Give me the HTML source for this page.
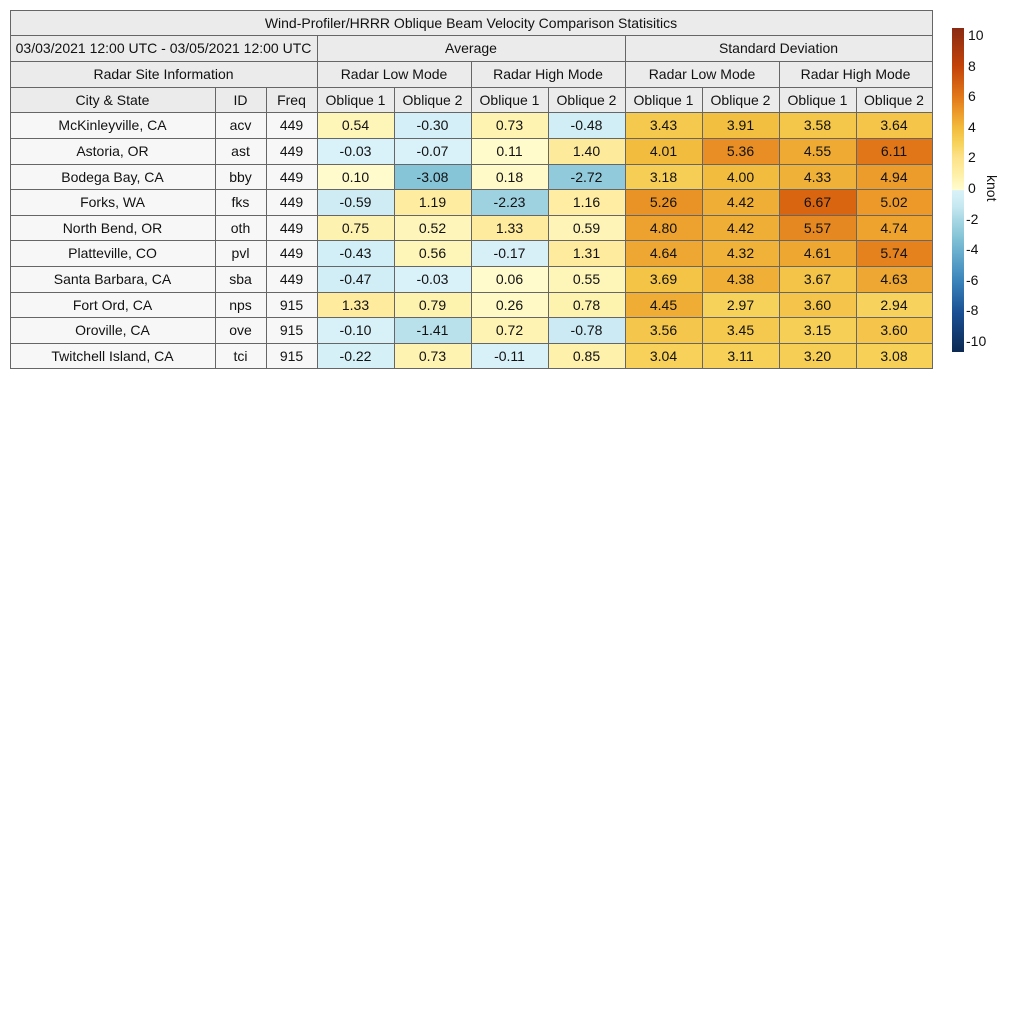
<!DOCTYPE html><html><head><style>
body{margin:0;width:1024px;height:1024px;background:#fff;position:relative;font-family:"Liberation Sans",sans-serif;overflow:hidden}
.c{position:absolute;box-sizing:border-box;border:1px solid #666;display:flex;align-items:center;justify-content:center;font-size:14px;color:#111;margin:-0.5px 0 0 -0.5px}
.t{position:absolute;font-size:14px;color:#111}
</style></head><body>
<div id="tb"></div>
<div style="position:absolute;left:952px;top:28px;width:12px;height:324px;background:linear-gradient(to bottom,#8a2a12 0%,#c4440a 12%,#e27a1a 21.5%,#ec9a2a 26%,#f2bd3f 31%,#f7d25a 35.5%,#fde28a 40%,#feefa6 45%,#fffcd0 50%,#daf2f9 50.1%,#c7e8f1 55%,#a5d6e3 59.5%,#88c6d8 64%,#6aafce 69%,#3a84bb 78%,#1a4f93 88%,#0c2a52 100%)"></div>
<div id="cb"></div>
<div class="t" style="left:982px;top:182px;transform:rotate(90deg);transform-origin:left top;left:1000px;top:175px">knot</div>
<script>
const X=[10,215,266,317,394,471,548,625,702,779,856,932];
const Y=[10,35,61,87,112,138,164,189,215,240,266,292,317,343,368];
let h='';
function cell(c0,c1,r0,r1,txt,bg,jl){h+=`<div class="c" style="left:${X[c0]}px;top:${Y[r0]}px;width:${X[c1]-X[c0]+1}px;height:${Y[r1]-Y[r0]+1}px;background:${bg};${jl?'justify-content:flex-start;padding-left:5px;':''}">${txt}</div>`;}
const hb='#ebebeb';
cell(0,11,0,1,'Wind-Profiler/HRRR Oblique Beam Velocity Comparison Statisitics',hb);
cell(0,3,1,2,'03/03/2021 12:00 UTC - 03/05/2021 12:00 UTC',hb);
cell(3,7,1,2,'Average',hb);cell(7,11,1,2,'Standard Deviation',hb);
cell(0,3,2,3,'Radar Site Information',hb);
cell(3,5,2,3,'Radar Low Mode',hb);cell(5,7,2,3,'Radar High Mode',hb);cell(7,9,2,3,'Radar Low Mode',hb);cell(9,11,2,3,'Radar High Mode',hb);
['City &amp; State','ID','Freq','Oblique 1','Oblique 2','Oblique 1','Oblique 2','Oblique 1','Oblique 2','Oblique 1','Oblique 2'].forEach((t,i)=>cell(i,i+1,3,4,t,hb));
const D=[
['McKinleyville, CA','acv',449,0.54,-0.30,0.73,-0.48,3.43,3.91,3.58,3.64],
['Astoria, OR','ast',449,-0.03,-0.07,0.11,1.40,4.01,5.36,4.55,6.11],
['Bodega Bay, CA','bby',449,0.10,-3.08,0.18,-2.72,3.18,4.00,4.33,4.94],
['Forks, WA','fks',449,-0.59,1.19,-2.23,1.16,5.26,4.42,6.67,5.02],
['North Bend, OR','oth',449,0.75,0.52,1.33,0.59,4.80,4.42,5.57,4.74],
['Platteville, CO','pvl',449,-0.43,0.56,-0.17,1.31,4.64,4.32,4.61,5.74],
['Santa Barbara, CA','sba',449,-0.47,-0.03,0.06,0.55,3.69,4.38,3.67,4.63],
['Fort Ord, CA','nps',915,1.33,0.79,0.26,0.78,4.45,2.97,3.60,2.94],
['Oroville, CA','ove',915,-0.10,-1.41,0.72,-0.78,3.56,3.45,3.15,3.60],
['Twitchell Island, CA','tci',915,-0.22,0.73,-0.11,0.85,3.04,3.11,3.20,3.08]];
const P=[[0,'#fffcd0'],[1,'#feefa6'],[2,'#fde28a'],[3,'#f7d25a'],[4,'#f2bd3f'],[5,'#ec9a2a'],[6,'#e27a1a'],[7,'#d65a0c'],[8,'#c4440a'],[10,'#8a2a12']];
const N=[[0,'#daf2f9'],[1,'#c7e8f1'],[2,'#a5d6e3'],[3,'#88c6d8'],[4,'#6aafce'],[6,'#3a84bb'],[8,'#1a4f93'],[10,'#0c2a52']];
function hx(s){return [1,3,5].map(i=>parseInt(s.substr(i,2),16));}
function col(v){const S=v>=0?P:N;v=Math.abs(v);for(let i=0;i<S.length-1;i++){if(v<=S[i+1][0]){const f=(v-S[i][0])/(S[i+1][0]-S[i][0]);const a=hx(S[i][1]),b=hx(S[i+1][1]);return 'rgb('+a.map((x,k)=>Math.round(x+(b[k]-x)*f)).join(',')+')';}}return S[S.length-1][1];}
D.forEach((r,j)=>{r.forEach((v,i)=>{const bg=i<3?'#f7f7f7':col(v);cell(i,i+1,4+j,5+j,i<3?v:v.toFixed(2),bg);});});
document.getElementById('tb').innerHTML=h;
let c='';for(let v=10;v>=-10;v-=2){const y=189-v*15.3;c+=`<div class="t" style="left:${v<0?966:968}px;top:${y-9}px">${v}</div>`;}
document.getElementById('cb').innerHTML=c;
</script>
</body></html>
